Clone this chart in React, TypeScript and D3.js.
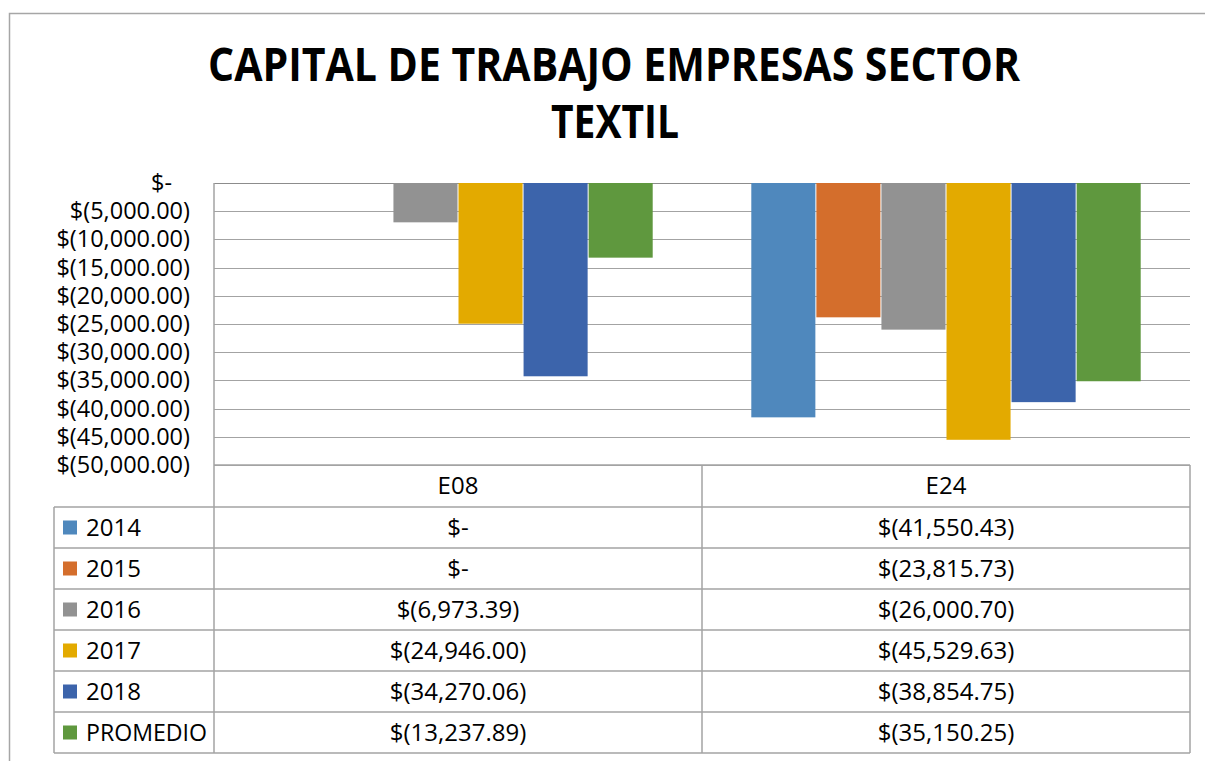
import React from "react";
import * as d3 from "d3";

const categories = ["E08", "E24"];
const seriesNames = ["2014", "2015", "2016", "2017", "2018", "PROMEDIO"];
const v2014 = [0, -41550.43];
const v2015 = [0, -23815.73];
const v2016 = [-6973.39, -26000.7];
const v2017 = [-24946.0, -45529.63];
const v2018 = [-34270.06, -38854.75];
const vPromedio = [-13237.89, -35150.25];
const yTicks = [0, -5000, -10000, -15000, -20000, -25000, -30000, -35000, -40000, -45000, -50000];

const seriesValues = [v2014, v2015, v2016, v2017, v2018, vPromedio];
const colors = ["#4F88BD", "#D46E2C", "#929292", "#E3AA00", "#3C64AB", "#5F983E"];

const W = 1205;
const H = 761;
const margin = { left: 214, right: 15, top: 183 };
const plotBottom = 465;
const tableLeft = 54;
const headerH = 42;
const rowH = 41;
const font = "'Open Sans', sans-serif";
const lineColor = "#a3a3a3";

const money = (v: number) =>
  v === 0 ? "$-" : `$(${d3.format(",.2f")(Math.abs(v))})`;

export default function App() {
  const x0 = d3
    .scaleBand<string>()
    .domain(categories)
    .range([margin.left, W - margin.right])
    .padding(0);

  const x1 = d3
    .scaleBand<string>()
    .domain(seriesNames)
    .range([0, x0.bandwidth()])
    .paddingInner(0)
    .paddingOuter(0.75);

  const y = d3.scaleLinear().domain([0, -50000]).range([margin.top, plotBottom]);

  const tableTop = plotBottom + headerH;
  const tableBottom = tableTop + rowH * seriesNames.length;
  const xRight = W - margin.right;

  return (
    <svg
      width={W}
      height={H}
      style={{ position: "absolute", left: 0, top: 0, background: "#fff" }}
      fontFamily={font}
    >
      {/* chart border */}
      <rect x={9.5} y={13.5} width={W + 20} height={H + 20} fill="#fff" stroke="#a6a6a6" strokeWidth={1.5} />

      {/* title */}
      <text x={614} y={81} textAnchor="middle" fontSize={46} fontWeight="bold" textLength={812} lengthAdjust="spacingAndGlyphs">
        CAPITAL DE TRABAJO EMPRESAS SECTOR
      </text>
      <text x={615} y={138} textAnchor="middle" fontSize={46} fontWeight="bold" textLength={128} lengthAdjust="spacingAndGlyphs">
        TEXTIL
      </text>

      {/* gridlines and y labels */}
      {yTicks.map((t) => (
        <g key={t}>
          <line
            x1={margin.left}
            x2={xRight}
            y1={Math.round(y(t)) + 0.5}
            y2={Math.round(y(t)) + 0.5}
            stroke={t === 0 ? "#8c8c8c" : lineColor}
            strokeWidth={1}
          />
          <text
            x={190 - (t === 0 ? 18 : 0)}
            y={y(t) + 8}
            textAnchor="end"
            fontSize={23.5}
            fill="#000"
          >
            {money(t)}
          </text>
        </g>
      ))}

      {/* bars */}
      {categories.map((c, ci) => (
        <g key={c} transform={`translate(${x0(c)},0)`}>
          {seriesNames.map((s, si) => {
            const v = seriesValues[si][ci];
            return (
              <rect
                key={s}
                x={(x1(s) as number) + 0.5}
                y={y(0)}
                width={x1.bandwidth() - 1}
                height={y(v) - y(0)}
                fill={colors[si]}
              />
            );
          })}
        </g>
      ))}

      {/* data table */}
      <g stroke={lineColor} strokeWidth={1.5}>
        <line x1={margin.left} x2={margin.left} y1={margin.top} y2={tableBottom} />
        <line x1={x0("E24")} x2={x0("E24")} y1={plotBottom} y2={tableBottom} />
        <line x1={xRight} x2={xRight} y1={plotBottom} y2={tableBottom} />
        <line x1={tableLeft} x2={tableLeft} y1={tableTop} y2={tableBottom} />
        <line x1={margin.left} x2={xRight} y1={plotBottom} y2={plotBottom} />
        {seriesNames.map((s, i) => (
          <line key={s} x1={tableLeft} x2={xRight} y1={tableTop + i * rowH} y2={tableTop + i * rowH} />
        ))}
        <line x1={tableLeft} x2={xRight} y1={tableBottom} y2={tableBottom} />
      </g>

      {categories.map((c) => (
        <text
          key={c}
          x={(x0(c) as number) + x0.bandwidth() / 2}
          y={plotBottom + headerH / 2 + 8}
          textAnchor="middle"
          fontSize={24}
        >
          {c}
        </text>
      ))}

      {seriesNames.map((s, si) => {
        const cy = tableTop + si * rowH + rowH / 2;
        return (
          <g key={s}>
            <rect x={63} y={cy - 7} width={14} height={14} fill={colors[si]} />
            <text
              x={86}
              y={cy + 8}
              fontSize={24}
              textLength={s.length > 6 ? 121 : undefined}
              lengthAdjust="spacingAndGlyphs"
            >
              {s}
            </text>
            {categories.map((c, ci) => (
              <text
                key={c}
                x={(x0(c) as number) + x0.bandwidth() / 2}
                y={cy + 8}
                textAnchor="middle"
                fontSize={24}
              >
                {money(seriesValues[si][ci])}
              </text>
            ))}
          </g>
        );
      })}
    </svg>
  );
}
